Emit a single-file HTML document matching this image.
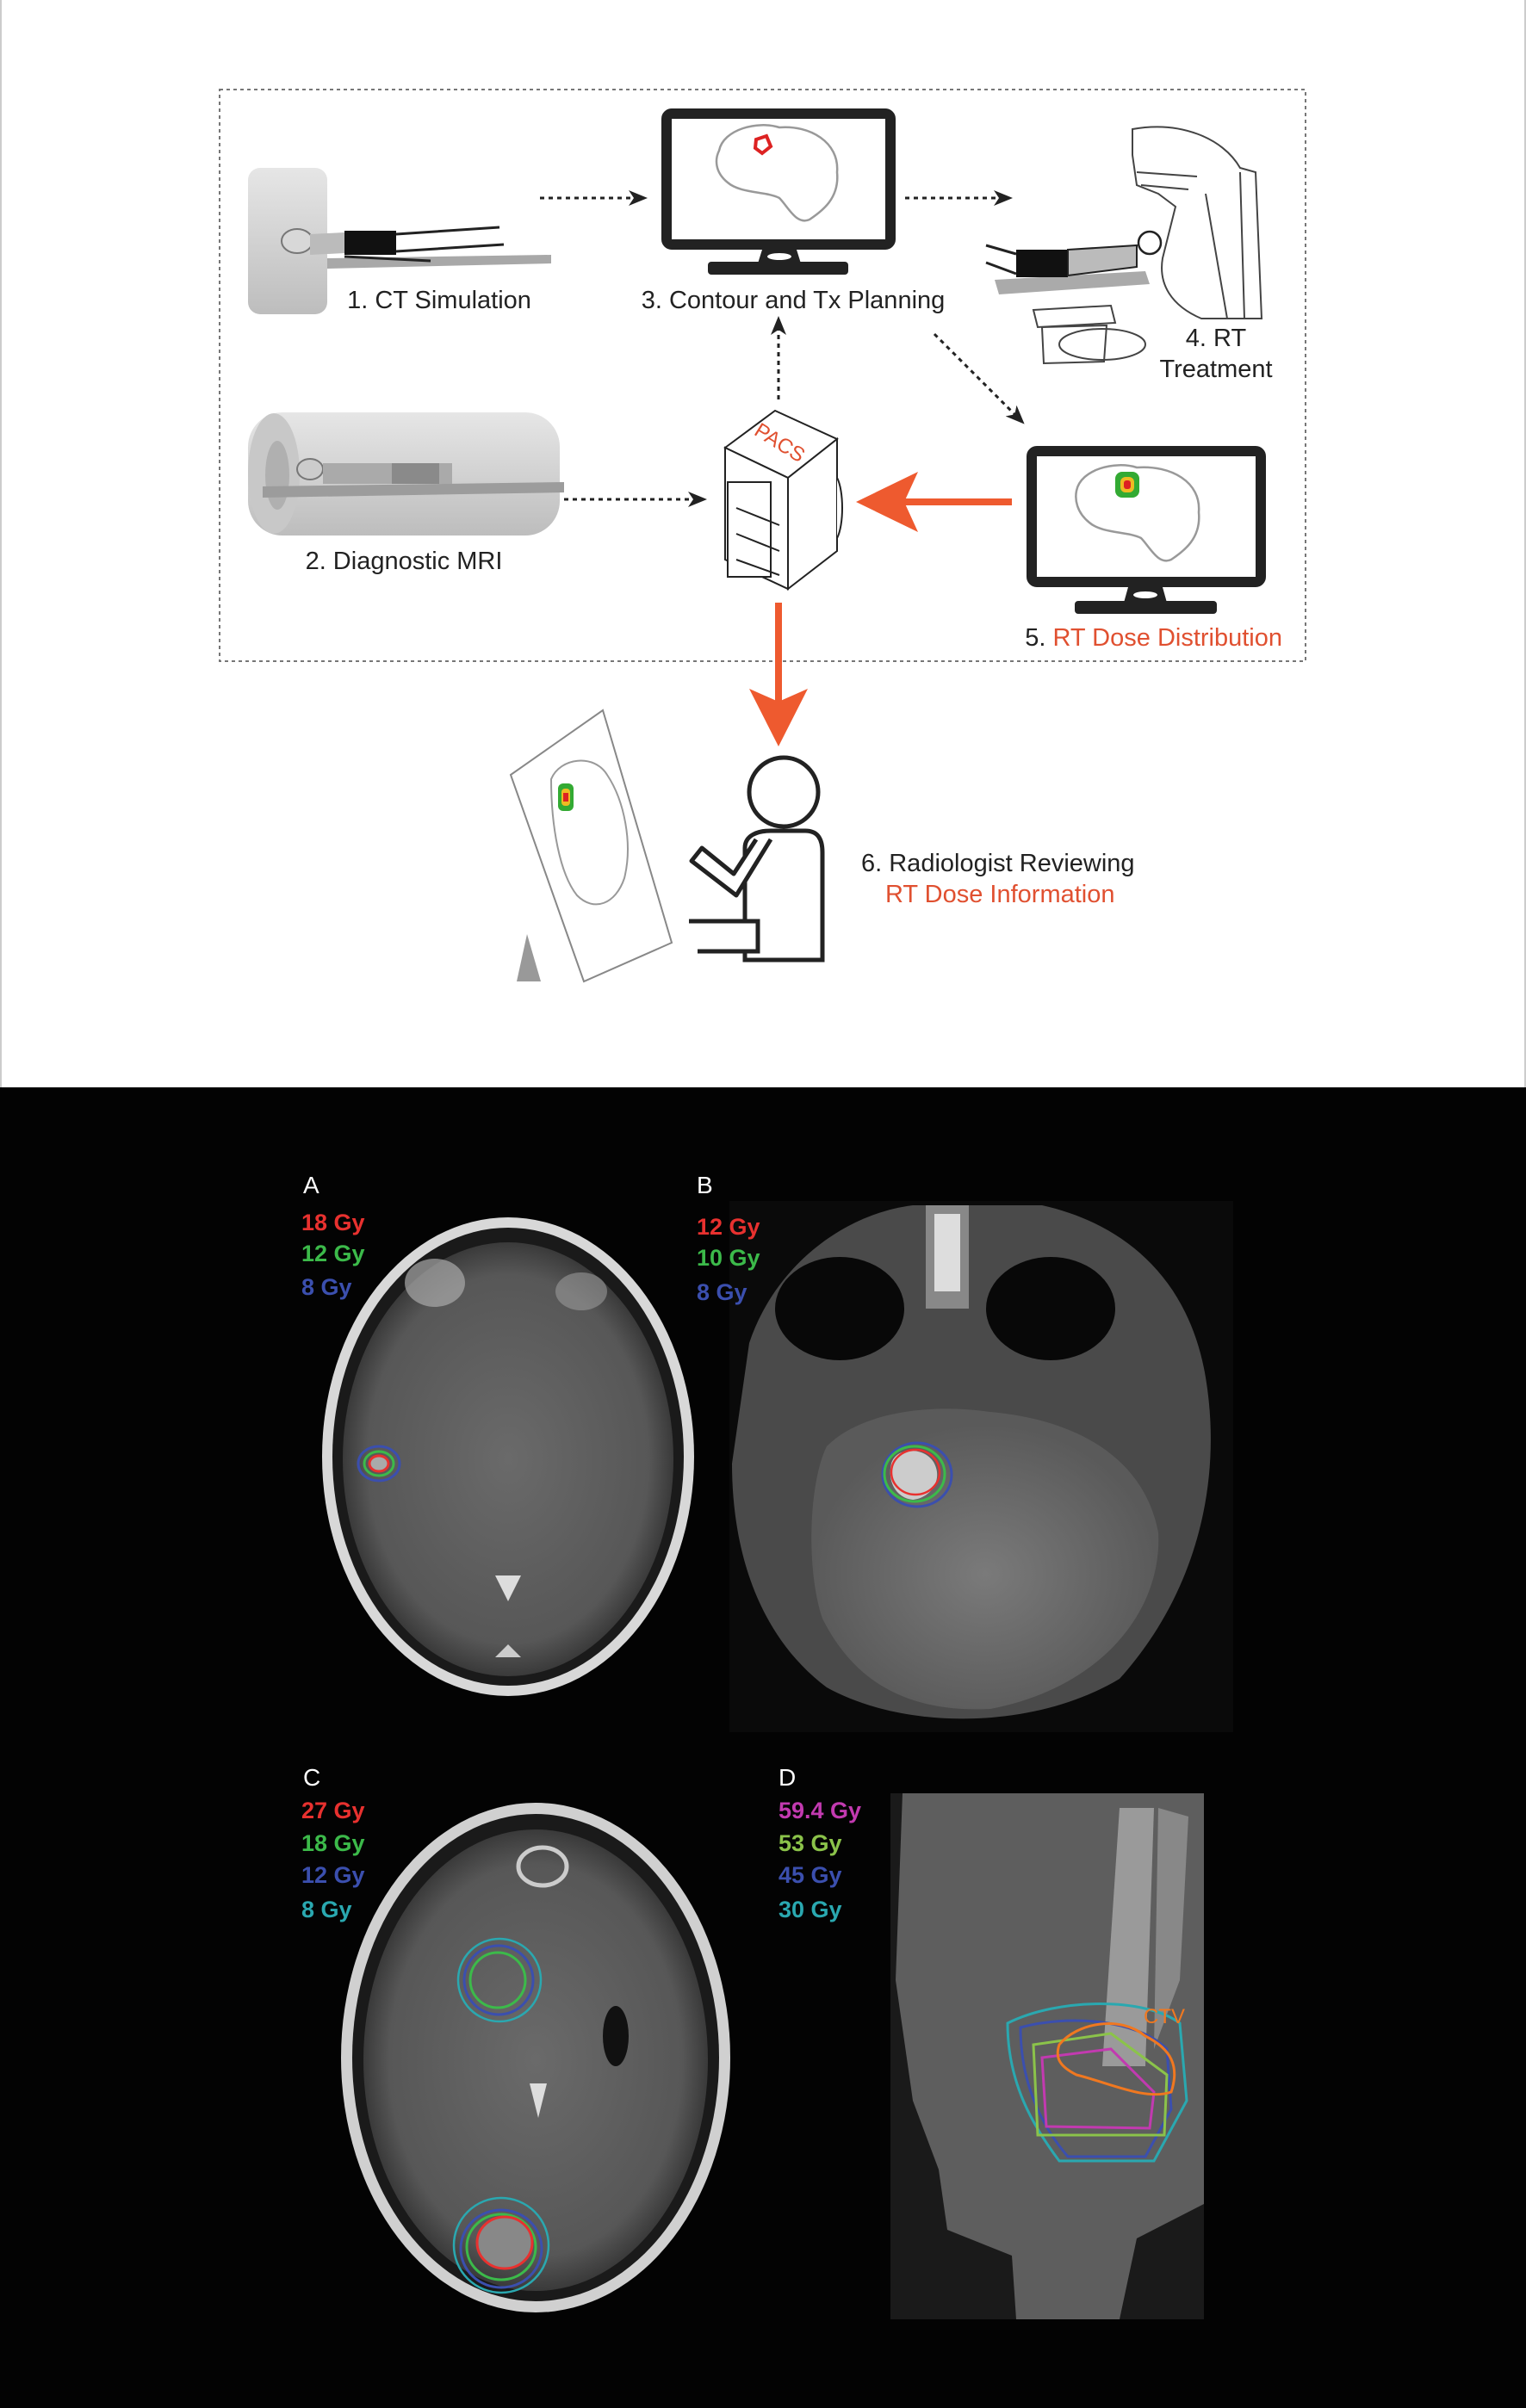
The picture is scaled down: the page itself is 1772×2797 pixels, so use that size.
<!DOCTYPE html>
<html><head><meta charset="utf-8"><style>
html,body{margin:0;padding:0;background:#fff}
svg{display:block}
text{font-family:"Liberation Sans",sans-serif}
.lb{font-size:29px;fill:#222}
.gy{font-size:27px;font-weight:bold}
</style></head><body>
<svg width="1772" height="2797" viewBox="0 0 1772 2797" xmlns="http://www.w3.org/2000/svg">
<defs>
<marker id="ah" markerWidth="22" markerHeight="18" refX="14" refY="9" orient="auto" markerUnits="userSpaceOnUse" viewBox="0 0 22 18"><path d="M0,0 L22,9 L0,18 L6,9 Z" fill="#222"/></marker>
<linearGradient id="cyl" x1="0" y1="0" x2="0" y2="1"><stop offset="0" stop-color="#e6e6e6"/><stop offset="0.5" stop-color="#d2d2d2"/><stop offset="1" stop-color="#bdbdbd"/></linearGradient>
<radialGradient id="brain" cx="0.5" cy="0.5" r="0.5"><stop offset="0" stop-color="#6a6a6a"/><stop offset="0.85" stop-color="#575757"/><stop offset="1" stop-color="#3a3a3a"/></radialGradient>
<radialGradient id="post" cx="0.5" cy="0.55" r="0.5"><stop offset="0" stop-color="#7a7a7a"/><stop offset="1" stop-color="#5a5a5a"/></radialGradient>
</defs>
<rect x="0" y="0" width="1772" height="1263" fill="#fff"/>
<rect x="0" y="0" width="2" height="1263" fill="#ccc"/><rect x="1770" y="0" width="2" height="1263" fill="#ccc"/>
<rect x="255" y="104" width="1261" height="664" fill="none" stroke="#777" stroke-width="2" stroke-dasharray="4,4"/>

<!-- CT -->
<rect x="288" y="195" width="92" height="170" rx="14" fill="url(#cyl)"/>
<path d="M380,300 L640,296 L640,306 L380,312 Z" fill="#a8a8a8"/>
<ellipse cx="345" cy="280" rx="18" ry="14" fill="#d8d8d8" stroke="#777" stroke-width="2"/>
<path d="M360,272 L400,270 L400,294 L360,296 Z" fill="#bbb"/>
<rect x="400" y="268" width="60" height="28" fill="#111"/>
<path d="M460,272 L580,264 M460,292 L585,284" stroke="#222" stroke-width="3" fill="none"/>
<path d="M400,298 L500,303" stroke="#222" stroke-width="3"/>
<text class="lb" x="510" y="358" text-anchor="middle">1. CT Simulation</text>

<line x1="627" y1="230" x2="744" y2="230" stroke="#222" stroke-width="3" stroke-dasharray="5,5" marker-end="url(#ah)"/>
<line x1="1051" y1="230" x2="1168" y2="230" stroke="#222" stroke-width="3" stroke-dasharray="5,5" marker-end="url(#ah)"/>
<line x1="904" y1="464" x2="904" y2="375" stroke="#222" stroke-width="3" stroke-dasharray="5,5" marker-end="url(#ah)"/>
<line x1="1085" y1="388" x2="1184" y2="487" stroke="#222" stroke-width="3" stroke-dasharray="5,5" marker-end="url(#ah)"/>
<line x1="655" y1="580" x2="813" y2="580" stroke="#222" stroke-width="3" stroke-dasharray="5,5" marker-end="url(#ah)"/>

<!-- Monitor 3 -->
<rect x="774" y="132" width="260" height="152" rx="6" fill="#fff" stroke="#222" stroke-width="12"/>
<path d="M885,290 L925,290 L930,306 L880,306 Z" fill="#222"/>
<rect x="822" y="304" width="163" height="15" rx="4" fill="#222"/>
<ellipse cx="905" cy="298" rx="14" ry="4" fill="#fff"/>
<path d="M835,175 C840,150 880,140 905,148 C940,145 975,165 972,200 C975,230 955,245 940,255 C925,262 915,240 905,230 C890,222 860,225 845,212 C830,200 830,185 835,175 Z" fill="none" stroke="#999" stroke-width="2.5"/>
<path d="M878,162 L890,158 L895,170 L885,178 L877,172 Z" fill="none" stroke="#d22" stroke-width="4"/>
<text class="lb" x="921" y="358" text-anchor="middle">3. Contour and Tx Planning</text>

<!-- RT machine -->
<g fill="none" stroke="#444" stroke-width="2">
<path d="M1315,150 C1370,140 1420,160 1440,195 L1458,200 L1465,370 L1395,370 C1360,355 1345,330 1350,300 L1365,240 L1345,225 L1320,215 L1315,180 Z" fill="#fff"/>
<path d="M1320,200 L1390,205 M1325,215 L1380,220"/>
<path d="M1400,225 L1425,370 M1440,200 L1445,370"/>
<path d="M1200,360 L1290,355 L1295,375 L1205,380 Z"/>
<path d="M1210,380 L1285,378 L1282,420 L1212,422 Z"/>
<ellipse cx="1280" cy="400" rx="50" ry="18"/>
</g>
<path d="M1155,325 L1330,315 L1335,330 L1160,342 Z" fill="#aaa"/>
<rect x="1180" y="290" width="60" height="32" fill="#111"/>
<path d="M1240,290 L1320,285 L1320,310 L1240,320 Z" fill="#bbb" stroke="#222" stroke-width="2"/>
<circle cx="1335" cy="282" r="13" fill="#fff" stroke="#222" stroke-width="2.5"/>
<path d="M1180,295 L1145,285 M1180,318 L1145,305" stroke="#222" stroke-width="3"/>
<text class="lb" x="1412" y="402" text-anchor="middle">4. RT</text>
<text class="lb" x="1412" y="438" text-anchor="middle">Treatment</text>

<!-- MRI -->
<rect x="288" y="479" width="362" height="143" rx="40" fill="url(#cyl)"/>
<ellipse cx="318" cy="550" rx="30" ry="70" fill="#c8c8c8"/>
<ellipse cx="322" cy="552" rx="14" ry="40" fill="#b0b0b0"/>
<path d="M305,565 L655,560 L655,572 L305,578 Z" fill="#9c9c9c"/>
<ellipse cx="360" cy="545" rx="15" ry="12" fill="#ccc" stroke="#777" stroke-width="2"/>
<rect x="375" y="538" width="150" height="24" fill="#aaa"/>
<rect x="455" y="538" width="55" height="24" fill="#8a8a8a"/>
<text class="lb" x="469" y="661" text-anchor="middle">2. Diagnostic MRI</text>

<!-- PACS -->
<g fill="#fff" stroke="#222" stroke-width="2">
<path d="M842,520 L900,477 L972,510 L915,555 Z"/>
<path d="M842,520 L915,555 L915,684 L842,650 Z"/>
<path d="M915,555 L972,510 L972,640 L915,684 Z"/>
<rect x="845" y="560" width="50" height="110"/>
<path d="M855,590 L905,610 M855,620 L905,640 M855,650 L905,668"/>
<path d="M972,555 C980,570 980,610 972,625"/>
</g>
<text x="905" y="522" font-size="24" fill="#e05030" text-anchor="middle" transform="rotate(32 905 515)">PACS</text>

<line x1="1175" y1="583" x2="1050" y2="583" stroke="#ee5a2f" stroke-width="8"/>
<path d="M994,583 L1066,548 L1050,583 L1066,618 Z" fill="#ee5a2f"/>
<line x1="904" y1="700" x2="904" y2="820" stroke="#ee5a2f" stroke-width="8"/>
<path d="M904,867 L870,800 L904,815 L938,800 Z" fill="#ee5a2f"/>

<!-- Monitor 5 -->
<rect x="1198" y="524" width="266" height="152" rx="6" fill="#fff" stroke="#222" stroke-width="12"/>
<path d="M1310,682 L1350,682 L1355,700 L1305,700 Z" fill="#222"/>
<rect x="1248" y="698" width="165" height="15" rx="4" fill="#222"/>
<ellipse cx="1330" cy="691" rx="14" ry="4" fill="#fff"/>
<path d="M1250,570 C1255,545 1295,535 1320,543 C1360,540 1395,560 1392,595 C1395,625 1375,640 1360,650 C1345,657 1335,635 1325,625 C1310,617 1280,620 1265,607 C1250,595 1248,580 1250,570 Z" fill="none" stroke="#999" stroke-width="2.5"/>
<rect x="1295" y="548" width="28" height="30" rx="8" fill="#3a3" />
<rect x="1301" y="554" width="16" height="18" rx="6" fill="#eb2"/>
<rect x="1305" y="558" width="8" height="10" rx="3" fill="#d22"/>
<text class="lb" x="1489" y="750" text-anchor="end"><tspan fill="#222">5. </tspan><tspan fill="#e05030">RT Dose Distribution</tspan></text>

<!-- paper -->
<path d="M593,900 L700,825 L780,1095 L678,1140 Z" fill="#fff" stroke="#888" stroke-width="2"/>
<path d="M600,1140 L612,1085 L628,1140 Z" fill="#999"/>
<path d="M640,905 C650,880 690,875 705,900 C725,930 735,980 725,1020 C715,1050 690,1060 670,1040 C650,1015 640,960 640,905 Z" fill="none" stroke="#999" stroke-width="2"/>
<rect x="648" y="910" width="18" height="32" rx="6" fill="#3a3"/>
<rect x="652" y="916" width="10" height="20" rx="4" fill="#eb2"/>
<rect x="654" y="921" width="6" height="10" fill="#d22"/>

<!-- person -->
<circle cx="910" cy="920" r="40" fill="#fff" stroke="#222" stroke-width="5"/>
<path d="M865,1115 L865,985 C865,970 880,965 895,965 L935,965 C950,965 955,975 955,990 L955,1115 Z" fill="#fff" stroke="#222" stroke-width="5"/>
<path d="M895,975 L855,1040 L803,1000 L815,985 L852,1015 L878,975" fill="#fff" stroke="#222" stroke-width="5" stroke-linejoin="round"/>
<path d="M800,1070 L880,1070 L880,1105 L810,1105" fill="#fff" stroke="#222" stroke-width="5"/>
<text class="lb" x="1000" y="1012">6. Radiologist Reviewing</text>
<text class="lb" x="1028" y="1048" style="fill:#e05030">RT Dose Information</text>

<rect x="0" y="1263" width="1772" height="1534" fill="#030303"/>

<!-- Panel A -->
<ellipse cx="590" cy="1692" rx="216" ry="278" fill="#d8d8d8"/>
<ellipse cx="590" cy="1692" rx="204" ry="266" fill="#1a1a1a"/>
<ellipse cx="590" cy="1695" rx="192" ry="252" fill="url(#brain)"/>
<ellipse cx="505" cy="1490" rx="35" ry="28" fill="#aaa" opacity="0.7"/>
<ellipse cx="675" cy="1500" rx="30" ry="22" fill="#999" opacity="0.6"/>
<path d="M575,1830 L590,1860 L605,1830 Z" fill="#ddd"/>
<path d="M575,1925 L605,1925 L590,1910 Z" fill="#ccc"/>
<ellipse cx="440" cy="1700" rx="24" ry="20" fill="none" stroke="#3b4fae" stroke-width="3"/>
<ellipse cx="440" cy="1700" rx="17" ry="14" fill="none" stroke="#3cba4a" stroke-width="3"/>
<ellipse cx="440" cy="1700" rx="11" ry="9" fill="#aaa" stroke="#e8312f" stroke-width="3"/>
<text x="352" y="1386" font-size="28" fill="#fff">A</text>
<text class="gy" x="350" y="1429" fill="#e8312f">18 Gy</text>
<text class="gy" x="350" y="1465" fill="#3cba4a">12 Gy</text>
<text class="gy" x="350" y="1504" fill="#3b4fae">8 Gy</text>

<!-- Panel B -->
<rect x="847" y="1395" width="585" height="617" fill="#0a0a0a"/>
<path d="M870,1560 C900,1470 980,1410 1060,1400 L1210,1400 C1300,1420 1380,1480 1400,1600 C1420,1720 1390,1850 1300,1950 C1200,2010 1050,2010 960,1960 C880,1900 850,1800 850,1700 Z" fill="#4a4a4a"/>
<ellipse cx="975" cy="1520" rx="75" ry="60" fill="#080808"/>
<ellipse cx="1220" cy="1520" rx="75" ry="60" fill="#080808"/>
<path d="M960,1680 C1000,1640 1080,1630 1150,1640 C1260,1650 1330,1700 1345,1780 C1350,1870 1280,1960 1150,1985 C1050,1990 990,1950 955,1880 C935,1820 940,1720 960,1680 Z" fill="url(#post)"/>
<rect x="1075" y="1400" width="50" height="120" fill="#888"/>
<rect x="1085" y="1410" width="30" height="90" fill="#ddd"/>
<path d="M1035,1700 C1040,1680 1075,1680 1085,1700 C1095,1720 1080,1740 1060,1742 C1040,1740 1030,1720 1035,1700 Z" fill="#ccc"/>
<ellipse cx="1065" cy="1713" rx="40" ry="37" fill="none" stroke="#3b4fae" stroke-width="3"/>
<ellipse cx="1062" cy="1712" rx="35" ry="32" fill="none" stroke="#3cba4a" stroke-width="3"/>
<ellipse cx="1063" cy="1710" rx="28" ry="26" fill="none" stroke="#e8312f" stroke-width="2.5"/>
<text x="809" y="1386" font-size="28" fill="#fff">B</text>
<text class="gy" x="809" y="1434" fill="#e8312f">12 Gy</text>
<text class="gy" x="809" y="1470" fill="#3cba4a">10 Gy</text>
<text class="gy" x="809" y="1510" fill="#3b4fae">8 Gy</text>

<!-- Panel C -->
<ellipse cx="622" cy="2390" rx="226" ry="296" fill="#d0d0d0"/>
<ellipse cx="622" cy="2390" rx="213" ry="283" fill="#1a1a1a"/>
<ellipse cx="622" cy="2393" rx="200" ry="268" fill="url(#brain)"/>
<ellipse cx="630" cy="2168" rx="28" ry="22" fill="none" stroke="#ccc" stroke-width="5"/>
<path d="M615,2420 L625,2460 L635,2420 Z" fill="#ddd"/>
<ellipse cx="715" cy="2365" rx="15" ry="35" fill="#111"/>
<ellipse cx="580" cy="2300" rx="48" ry="48" fill="none" stroke="#2aa8b0" stroke-width="2.5"/>
<ellipse cx="579" cy="2300" rx="40" ry="40" fill="none" stroke="#3b4fae" stroke-width="3"/>
<ellipse cx="578" cy="2300" rx="32" ry="32" fill="none" stroke="#3cba4a" stroke-width="3"/>
<ellipse cx="582" cy="2608" rx="55" ry="55" fill="none" stroke="#2aa8b0" stroke-width="2.5"/>
<ellipse cx="582" cy="2612" rx="47" ry="45" fill="none" stroke="#3b4fae" stroke-width="3"/>
<ellipse cx="582" cy="2610" rx="40" ry="38" fill="none" stroke="#3cba4a" stroke-width="3"/>
<ellipse cx="586" cy="2605" rx="32" ry="30" fill="#888" stroke="#e8312f" stroke-width="3"/>
<text x="352" y="2074" font-size="28" fill="#fff">C</text>
<text class="gy" x="350" y="2112" fill="#e8312f">27 Gy</text>
<text class="gy" x="350" y="2150" fill="#3cba4a">18 Gy</text>
<text class="gy" x="350" y="2187" fill="#3b4fae">12 Gy</text>
<text class="gy" x="350" y="2227" fill="#2aa8b0">8 Gy</text>

<!-- Panel D -->
<rect x="1034" y="2083" width="364" height="611" fill="#1a1a1a"/>
<path d="M1048,2083 L1398,2083 L1398,2560 L1320,2600 L1300,2694 L1180,2694 L1175,2620 L1100,2590 L1090,2520 L1060,2440 L1040,2300 Z" fill="#5e5e5e"/>
<path d="M1300,2100 L1340,2100 L1330,2400 L1280,2400 Z" fill="#9a9a9a"/>
<path d="M1345,2100 L1380,2110 L1370,2300 L1340,2380 Z" fill="#888"/>
<path d="M1170,2350 C1230,2320 1330,2320 1370,2350 L1378,2440 L1340,2510 L1230,2510 C1200,2470 1170,2420 1170,2350 Z" fill="none" stroke="#2aa8b0" stroke-width="3"/>
<path d="M1185,2355 C1240,2340 1320,2345 1355,2380 L1360,2450 L1330,2505 L1240,2505 C1210,2470 1185,2420 1185,2355 Z" fill="none" stroke="#3b4fae" stroke-width="3"/>
<path d="M1200,2375 L1290,2362 L1355,2410 L1352,2480 L1205,2480 Z" fill="none" stroke="#8bc34a" stroke-width="3"/>
<path d="M1210,2390 L1290,2380 L1340,2430 L1335,2472 L1215,2470 Z" fill="none" stroke="#c23ab0" stroke-width="3"/>
<path d="M1230,2375 C1250,2350 1300,2340 1330,2365 C1360,2380 1370,2400 1360,2430 C1330,2440 1290,2420 1250,2410 C1230,2400 1225,2390 1230,2375 Z" fill="none" stroke="#f07820" stroke-width="3"/>
<text x="1328" y="2350" font-size="24" fill="#f07820">CTV</text>
<text x="904" y="2074" font-size="28" fill="#fff">D</text>
<text class="gy" x="904" y="2112" fill="#c23ab0">59.4 Gy</text>
<text class="gy" x="904" y="2150" fill="#8bc34a">53 Gy</text>
<text class="gy" x="904" y="2187" fill="#3b4fae">45 Gy</text>
<text class="gy" x="904" y="2227" fill="#2aa8b0">30 Gy</text>
</svg>
</body></html>
